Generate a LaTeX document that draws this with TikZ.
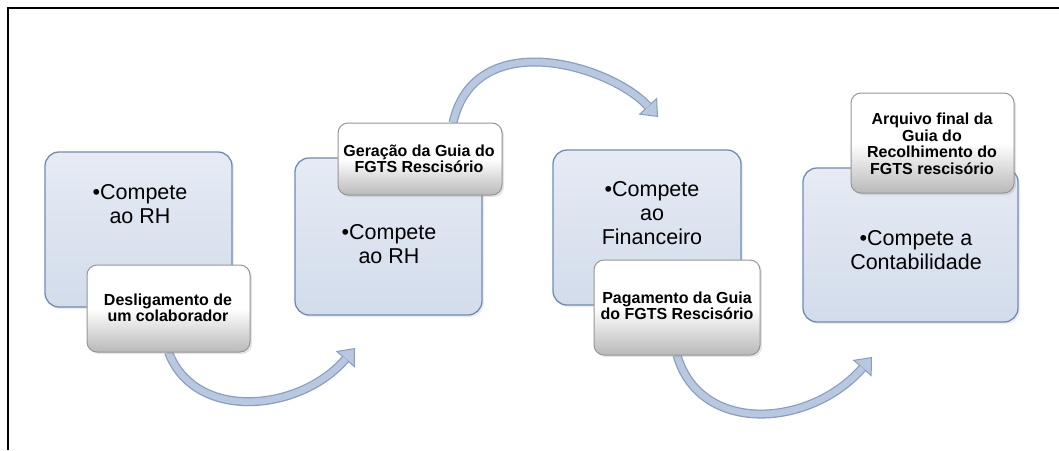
\documentclass[tikz,border=0pt]{standalone}
\usepackage{fontspec}
\setmainfont{Liberation Sans}
\usetikzlibrary{arrows.meta,shadows,calc}
\definecolor{bigfillA}{RGB}{230,235,244}
\definecolor{bigfillB}{RGB}{210,220,235}
\definecolor{bigedge}{RGB}{112,140,182}
\definecolor{smalledge}{RGB}{150,150,150}
\definecolor{smallfillB}{RGB}{185,185,185}
\definecolor{arrowfill}{RGB}{184,200,224}
\definecolor{arrowedge}{RGB}{135,158,190}
\tikzset{
  bigbox/.style={draw=bigedge, line width=1.3pt, rounded corners=14pt,
    top color=bigfillA, bottom color=bigfillB,
    drop shadow={opacity=0.15, shadow xshift=2pt, shadow yshift=-2pt}},
  smallbox/.style={draw=smalledge, line width=1pt, rounded corners=10pt,
    top color=white, bottom color=smallfillB, middle color=white,
    drop shadow={opacity=0.2, shadow xshift=2pt, shadow yshift=-2pt}},
  bigtext/.style={align=center, font=\fontsize{21.5}{24}\selectfont, text=black, inner sep=0pt},
  smalltext/.style={align=center, font=\fontsize{16}{16.5}\selectfont\bfseries, text=black, inner sep=0pt},
  bandout/.style={line width=9pt, draw=arrowedge,
    -{Triangle[width=25pt,length=15pt,line width=1pt,fill=arrowfill]}},
  bandin/.style={line width=6.5pt, draw=arrowfill, shorten >=14.5pt},
  frame/.style={line width=1.5pt, draw=black}
}
\begin{document}
\begin{tikzpicture}[x=1pt,y=-1pt]
\useasboundingbox (0,0) rectangle (1059,450);
\fill[white] (0,0) rectangle (1059,450);
\coordinate (fo) at (8,8);
\coordinate (fr) at (1059,8);
\coordinate (fb) at (8,450);
\draw[frame] (fr) -- (fo) -- (fb);

% node placement (no drawing yet, for arrows)
\path (168.5,308.5) node[minimum width=163pt, minimum height=87pt] (s1) {};
\path (420,159) node[minimum width=164pt, minimum height=72pt] (s2) {};
\path (677,307.5) node[minimum width=166pt, minimum height=95pt] (s3) {};
\coordinate (e1) at (355,348);
\coordinate (e2) at (658,117);
\coordinate (e3) at (872,357);
\coordinate (a2s) at ($(s2.north)+(33,0)$);

% arrows
\draw[bandout] (s1.south) .. controls (195,422) and (300,412) .. (e1);
\draw[bandin]  (s1.south) .. controls (195,422) and (300,412) .. (e1);
\draw[bandout] (a2s) .. controls (475,25) and (610,65) .. (e2);
\draw[bandin]  (a2s) .. controls (475,25) and (610,65) .. (e2);
\draw[bandout] (s3.south) .. controls (700,435) and (810,428) .. (e3);
\draw[bandin]  (s3.south) .. controls (700,435) and (810,428) .. (e3);

% big boxes
\node[bigbox, minimum width=187pt, minimum height=155pt] (b1) at (138.5,229.5) {};
\node[bigbox, minimum width=187pt, minimum height=157pt] (b2) at (388.5,236.5) {};
\node[bigbox, minimum width=188pt, minimum height=155pt] (b3) at (647,227.5) {};
\node[bigbox, minimum width=215pt, minimum height=154pt] (b4) at (910.5,245) {};

\node[bigtext] (t1) at (140,204) {•Compete\\ao RH};
\node[bigtext] (t2) at (389,244) {•Compete\\ao RH};
\node[bigtext] (t3) at (652,213) {•Compete\\ao\\Financeiro};
\node[bigtext] (t4) at (916,250.5) {•Compete a\\Contabilidade};

% small boxes
\node[smallbox, minimum width=163pt, minimum height=87pt] (k1) at (168.5,308.5) {};
\node[smallbox, minimum width=164pt, minimum height=72pt] (k2) at (420,159) {};
\node[smallbox, minimum width=166pt, minimum height=95pt] (k3) at (677,307.5) {};
\node[smallbox, minimum width=163pt, minimum height=100pt] (k4) at (932.5,143) {};

\node[smalltext] (u1) at (168,308) {Desligamento de\\um colaborador};
\node[smalltext] (u2) at (419,159) {Geração da Guia do\\FGTS Rescisório};
\node[smalltext] (u3) at (677,306) {Pagamento da Guia\\do FGTS Rescisório};
\node[smalltext] (u4) at (932,144) {Arquivo final da\\Guia do\\Recolhimento do\\FGTS rescisório};
\end{tikzpicture}
\end{document}
